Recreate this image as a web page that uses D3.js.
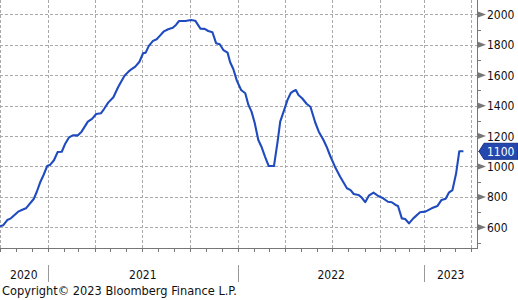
<!DOCTYPE html>
<html lang="en">
<head>
<meta charset="UTF-8">
<title>Bloomberg weekly line</title>
<style>
  body { margin: 0; background: #fff; }
  svg { display: block; }
  text { font-family: "DejaVu Sans Condensed", "DejaVu Sans", sans-serif; font-stretch: condensed; }
</style>
</head>
<body>
<svg id="chart" width="518" height="300"></svg>
<script src="https://cdn.jsdelivr.net/npm/d3@7/dist/d3.min.js"></script>
<script>
// values
const dates = [
  "2020-10-01","2020-10-07","2020-10-15","2020-10-22","2020-11-05","2020-11-12","2020-11-20","2020-12-05",
  "2020-12-11","2020-12-18","2020-12-24","2020-12-31","2021-01-06","2021-01-13","2021-01-20","2021-01-28",
  "2021-02-03","2021-02-11","2021-02-18","2021-02-28","2021-03-07","2021-03-19","2021-03-27","2021-04-04",
  "2021-04-13","2021-04-19","2021-04-27","2021-05-07","2021-05-16","2021-05-28","2021-06-05","2021-06-11",
  "2021-06-18","2021-06-26","2021-07-03","2021-07-08","2021-07-14","2021-07-22","2021-07-29","2021-08-04",
  "2021-08-12","2021-08-20","2021-08-29","2021-09-04","2021-09-10","2021-09-22","2021-10-03","2021-10-11",
  "2021-10-15","2021-10-21","2021-10-29","2021-11-05","2021-11-13","2021-11-20","2021-11-27","2021-12-04",
  "2021-12-12","2021-12-17","2021-12-23","2021-12-30","2022-01-07","2022-01-15","2022-01-21","2022-01-27",
  "2022-02-02","2022-02-09","2022-02-15","2022-02-22","2022-03-01","2022-03-11","2022-03-18","2022-03-23",
  "2022-03-31","2022-04-06","2022-04-12","2022-04-18","2022-04-22","2022-04-27","2022-05-04","2022-05-13",
  "2022-05-20","2022-05-29","2022-06-05","2022-06-14","2022-06-20","2022-06-27","2022-07-06","2022-07-16",
  "2022-07-29","2022-08-05","2022-08-11","2022-08-20","2022-08-26","2022-09-02","2022-09-09","2022-09-18",
  "2022-09-27","2022-10-07","2022-10-17","2022-10-25","2022-11-02","2022-11-07","2022-11-15","2022-11-22",
  "2022-11-30","2022-12-09","2022-12-23","2023-01-03","2023-01-15","2023-01-26","2023-02-03","2023-02-11",
  "2023-02-17","2023-02-24","2023-03-03","2023-03-09","2023-03-17"
];
const values = [
  607, 613, 648, 659, 703, 714, 725, 786,
  834, 900, 944, 1003, 1012, 1041, 1095, 1097,
  1146, 1192, 1205, 1205, 1229, 1295, 1313, 1345,
  1350, 1378, 1420, 1455, 1521, 1595, 1624, 1641,
  1657, 1689, 1745, 1749, 1793, 1826, 1837, 1859,
  1889, 1903, 1913, 1931, 1957, 1957, 1964, 1959,
  1938, 1907, 1905, 1891, 1883, 1811, 1804, 1766,
  1749, 1686, 1641, 1563, 1503, 1482, 1405, 1361,
  1288, 1174, 1130, 1064, 1003, 1003, 1163, 1295,
  1376, 1438, 1482, 1497, 1503, 1470, 1449, 1411,
  1393, 1291, 1229, 1174, 1130, 1069, 999, 933,
  857, 845, 819, 813, 797, 765, 808, 828,
  806, 791, 768, 765, 747, 740, 659, 655,
  626, 659, 699, 703, 725, 740, 780, 788,
  828, 845, 955, 1100, 1100
];
const yearLabels = ["2020", "2021", "2022", "2023"];
const yTicks = [600, 800, 1000, 1200, 1400, 1600, 1800, 2000];
const yMinorTicks = [500, 700, 900, 1100, 1300, 1500, 1700, 1900];
const lastValue = 1100;

const parse = d3.timeParse("%Y-%m-%d");
const data = dates.map((d, i) => ({ date: parse(d), value: values[i] }));

const svg = d3.select("#chart");
const plotW = 477, plotH = 248;
const blue = "#1f4bbf";
const gridColor = "#aaaaaa";
const axisColor = "#777777";

// weekly spacing isn't perfectly even in the source, so the time scale is piecewise
const x = d3.scaleTime()
  .domain([parse("2020-10-01"), parse("2021-01-01"), parse("2022-10-01"), parse("2023-01-01"), parse("2023-04-12")])
  .range([0, 47.7, 380.3, 424.3, plotW]);
const y = d3.scaleLinear().domain([464, 2095]).range([plotH, 0]);

const xStart = parse("2020-10-01"), xEnd = parse("2023-04-12");

// gridlines
const quarters = d3.timeMonth.every(3).range(xStart, xEnd);
svg.append("g").selectAll("line").data(quarters).join("line")
  .attr("x1", d => Math.round(x(d)) + 0.5).attr("x2", d => Math.round(x(d)) + 0.5)
  .attr("y1", 0).attr("y2", plotH)
  .attr("stroke", gridColor).attr("stroke-dasharray", "3,2");

svg.append("g").selectAll("line").data(yTicks).join("line")
  .attr("x1", 0).attr("x2", plotW)
  .attr("y1", d => Math.round(y(d)) + 0.5).attr("y2", d => Math.round(y(d)) + 0.5)
  .attr("stroke", gridColor).attr("stroke-dasharray", "3,2");

// bottom axis line + monthly ticks
svg.append("line")
  .attr("x1", 0).attr("x2", plotW + 1).attr("y1", plotH + 0.5).attr("y2", plotH + 0.5)
  .attr("stroke", axisColor);
const months = d3.timeMonth.every(1).range(xStart, xEnd);
svg.append("g").selectAll("line").data(months).join("line")
  .attr("x1", d => Math.round(x(d)) + 0.5).attr("x2", d => Math.round(x(d)) + 0.5)
  .attr("y1", plotH).attr("y2", plotH + 4)
  .attr("stroke", axisColor);

// right axis line, minor ticks and triangle markers
svg.append("line")
  .attr("x1", plotW + 0.5).attr("x2", plotW + 0.5).attr("y1", 0).attr("y2", plotH + 1)
  .attr("stroke", axisColor);
svg.append("g").selectAll("line").data(yMinorTicks).join("line")
  .attr("x1", plotW).attr("x2", plotW + 4)
  .attr("y1", d => Math.round(y(d)) + 0.5).attr("y2", d => Math.round(y(d)) + 0.5)
  .attr("stroke", axisColor);
svg.append("g").selectAll("path").data(yTicks).join("path")
  .attr("d", d => {
    const yy = y(d);
    return `M${plotW + 1},${yy - 3}L${plotW + 9},${yy}L${plotW + 1},${yy + 3}Z`;
  })
  .attr("fill", axisColor);
svg.append("g").selectAll("text").data(yTicks).join("text")
  .attr("x", 487).attr("y", d => y(d) + 4.5)
  .attr("font-size", 12).attr("fill", "#111")
  .text(d => d);

// year labels and separators
const years = yearLabels.map(t => {
  const a = Math.max(0, x(parse(t + "-01-01")));
  const b = Math.min(plotW, x(parse((+t + 1) + "-01-01")));
  return { label: t, a, b };
});
svg.append("g").selectAll("line").data(years.slice(1)).join("line")
  .attr("x1", d => Math.round(d.a) + 0.5).attr("x2", d => Math.round(d.a) + 0.5)
  .attr("y1", 265).attr("y2", 282)
  .attr("stroke", "#999");
svg.append("g").selectAll("text").data(years).join("text")
  .attr("x", d => (d.a + d.b) / 2).attr("y", 279)
  .attr("text-anchor", "middle").attr("font-size", 12).attr("fill", "#111")
  .text(d => d.label);

// the series
svg.append("path").datum(data)
  .attr("fill", "none").attr("stroke", blue).attr("stroke-width", 2.1)
  .attr("stroke-linejoin", "round")
  .attr("d", d3.line().x(d => x(d.date)).y(d => y(d.value)));

// last value callout
const cy = y(lastValue);
svg.append("path")
  .attr("d", `M${plotW + 2},${cy}L${plotW + 7},${cy - 8}L518,${cy - 8}L518,${cy + 8}L${plotW + 7},${cy + 8}Z`)
  .attr("fill", "#2448ad").attr("stroke", "#17338a");
svg.append("text")
  .attr("x", 487).attr("y", cy + 4.5)
  .attr("font-size", 12).attr("fill", "#fff")
  .text(lastValue);

svg.append("text")
  .attr("x", 2).attr("y", 295)
  .attr("font-size", 12.7).attr("fill", "#111")
  .text("Copyright\u00a9 2023 Bloomberg Finance L.P.");
</script>
</body>
</html>
